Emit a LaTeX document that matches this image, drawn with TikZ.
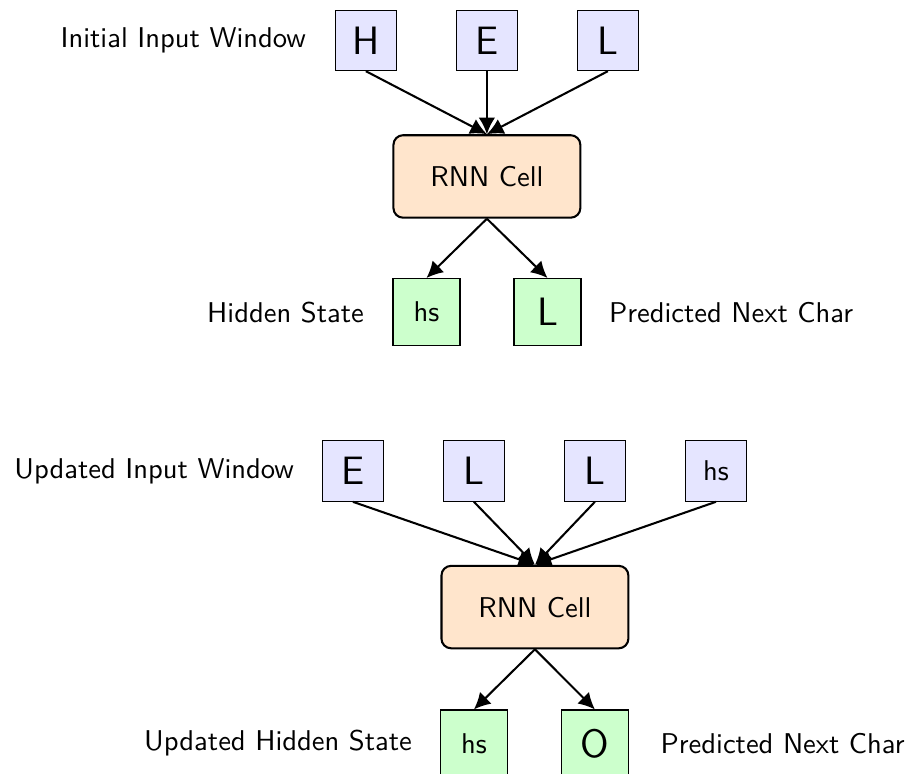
\documentclass[tikz,border=0pt]{standalone}
\usetikzlibrary{arrows.meta}

\tikzset{every picture/.style={line width=0.75pt}}
\tikzset{
  inbox/.style={draw, line width=0.4pt, fill=blue!10, minimum size=22pt, inner sep=0pt},
  outbox/.style={draw, line width=0.4pt, fill=green!20, minimum size=24.4pt, inner sep=0pt},
  cellbox/.style={draw, rounded corners=3.5pt, fill=orange!20, minimum width=68pt, minimum height=30pt},
  flow/.style={-{Latex[length=6pt,width=6pt]}},
  tag/.style={inner sep=0.75pt}
}

\begin{document}
\begin{tikzpicture}[x=0.75pt,y=0.75pt,yscale=-1,xscale=1,font=\sffamily\fontsize{10.4pt}{12.5pt}\selectfont]

\useasboundingbox (0,0) rectangle (440,375);

% first step
\draw (177.5,19.6) node [inbox] (a1) {\Large H};
\draw (236.2,19.6) node [inbox] (a2) {\Large E};
\draw (294.9,19.6) node [inbox] (a3) {\Large L};

\draw (236.2,85.6) node [cellbox] (cellA) {RNN Cell};

\draw (206.9,151.4) node [outbox] (hsA) {hs};
\draw (265.6,151.4) node [outbox] (predA) {\Large L};

\draw [flow] (a1.south) -- (cellA.north);
\draw [flow] (a2.south) -- (cellA.north);
\draw [flow] (a3.south) -- (cellA.north);
\draw [flow] (cellA.south) -- (hsA.north);
\draw [flow] (cellA.south) -- (predA.north);

\draw (149.9,19.6) node [anchor=east] [tag] (winA) {Initial Input Window};
\draw (178.0,151.4) node [anchor=east] [tag] (hsAtag) {Hidden State};
\draw (294.0,151.4) node [anchor=west] [tag] (predAtag) {Predicted Next Char};

% second step
\draw (171.2,228.5) node [inbox] (b1) {\Large E};
\draw (229.9,228.5) node [inbox] (b2) {\Large L};
\draw (288.6,228.5) node [inbox] (b3) {\Large L};
\draw (347.3,228.5) node [inbox] (b4) {hs};

\draw (259.5,294.5) node [cellbox] (cellB) {RNN Cell};

\draw (229.9,360.7) node [outbox] (hsB) {hs};
\draw (288.6,360.7) node [outbox] (predB) {\Large O};

\draw [flow] (b1.south) -- (cellB.north);
\draw [flow] (b2.south) -- (cellB.north);
\draw [flow] (b3.south) -- (cellB.north);
\draw [flow] (b4.south) -- (cellB.north);
\draw [flow] (cellB.south) -- (hsB.north);
\draw [flow] (cellB.south) -- (predB.north);

\draw (144.1,228.5) node [anchor=east] [tag] (winB) {Updated Input Window};
\draw (201.3,360.7) node [anchor=east] [tag] (hsBtag) {Updated Hidden State};
\draw (319.0,360.7) node [anchor=west] [tag] (predBtag) {Predicted Next Char};

\end{tikzpicture}
\end{document}
